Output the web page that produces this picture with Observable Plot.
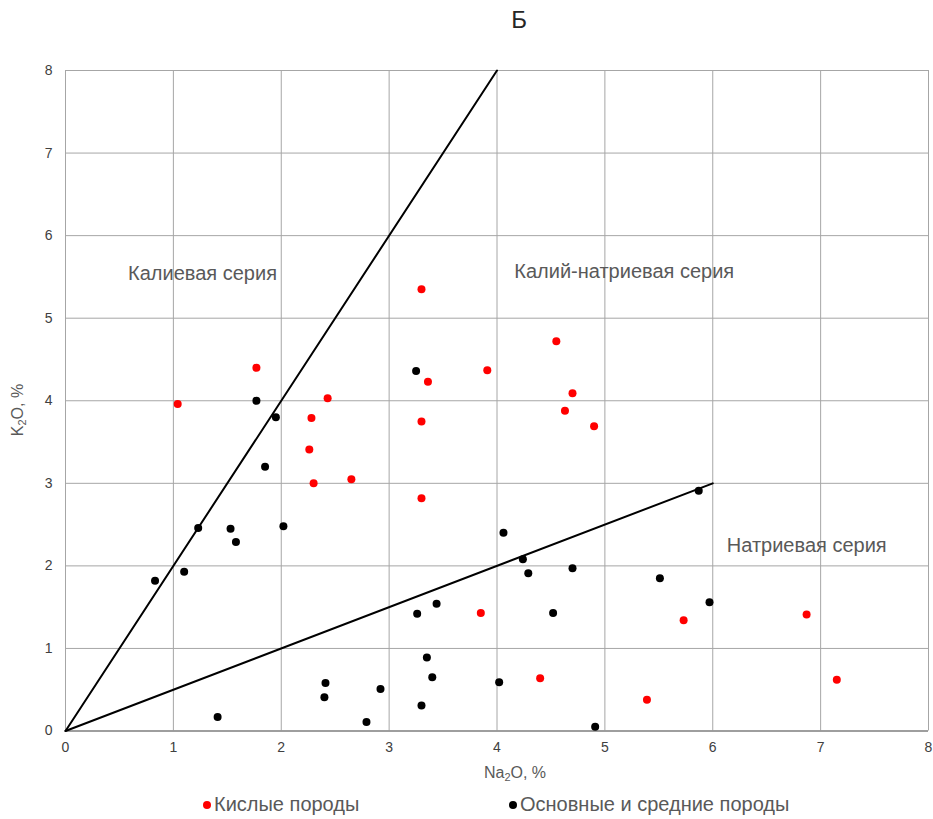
<!DOCTYPE html>
<html>
<head>
<meta charset="utf-8">
<script src="https://cdn.jsdelivr.net/npm/d3@7"></script>
<script src="https://cdn.jsdelivr.net/npm/@observablehq/plot@0.6"></script>
<style>
  html, body { margin: 0; padding: 0; background: #fff; }
  body { width: 933px; height: 819px; position: relative; overflow: hidden;
         font-family: "Liberation Sans", Arial, sans-serif; }
  #title { position: absolute; top: 6px; left: 519px; transform: translateX(-50%);
           font-size: 24px; color: #262626; }
  #chart { position: absolute; top: 0; left: 0; }
  .axlabel { position: absolute; font-size: 16px; color: #595959; white-space: nowrap; line-height: 1; }
  .axlabel sub { font-size: 11px; vertical-align: -3px; line-height: 0; }
  #xlabel { left: 515px; top: 773px; transform: translate(-50%, -50%); }
  #ylabel { left: 18px; top: 410px; transform: translate(-50%, -50%) rotate(-90deg); }
  .leg { position: absolute; top: 793px; font-size: 20px; color: #595959; white-space: nowrap; }
  .leg .dot { display: inline-block; width: 8px; height: 8px; border-radius: 50%;
              margin-right: 3px; vertical-align: middle; position: relative; top: -1px; }
</style>
</head>
<body>
<div id="title"></div>
<div id="chart"></div>
<div id="xlabel" class="axlabel"></div>
<div id="ylabel" class="axlabel"></div>
<script>
// ---- data ----
const title = "Б";
const xLabelParts = ["Na", "2", "O, %"];
const yLabelParts = ["K", "2", "O, %"];
const ticks = [0, 1, 2, 3, 4, 5, 6, 7, 8];

const seriesNames = ["Кислые породы", "Основные и средние породы"];
const seriesColors = ["#ff0000", "#000000"];

// Кислые породы (Na2O, K2O)
const acidNa = [1.04, 1.77, 2.43, 2.28, 2.26, 2.30, 2.65, 3.30, 3.36, 3.30, 3.30, 3.91, 4.55, 4.70, 4.63, 4.90, 3.85, 4.40, 5.39, 5.73, 6.87, 7.15];
const acidK  = [3.96, 4.40, 4.03, 3.79, 3.41, 3.00, 3.05, 5.35, 4.23, 3.75, 2.82, 4.37, 4.72, 4.09, 3.88, 3.69, 1.43, 0.64, 0.38, 1.34, 1.41, 0.62];

// Основные и средние породы (Na2O, K2O)
const basicNa = [0.83, 1.10, 1.23, 1.53, 1.58, 2.02, 1.85, 1.95, 1.77, 3.25, 1.41, 2.41, 2.40, 2.92, 2.79, 3.26, 3.44, 3.35, 3.40, 3.30, 4.02, 4.06, 4.24, 4.29, 4.70, 4.52, 5.51, 5.97, 5.87, 4.91];
const basicK  = [1.82, 1.93, 2.46, 2.45, 2.29, 2.48, 3.20, 3.80, 4.00, 4.36, 0.17, 0.58, 0.41, 0.51, 0.11, 1.42, 1.54, 0.89, 0.65, 0.31, 0.59, 2.40, 2.08, 1.91, 1.97, 1.43, 1.85, 1.56, 2.91, 0.05];

// boundary lines
const potassicBoundaryX = [0, 4];
const potassicBoundaryY = [0, 8];
const sodicBoundaryX = [0, 6];
const sodicBoundaryY = [0, 3];

// series field labels
const fieldLabels = ["Калиевая серия", "Калий-натриевая серия", "Натриевая серия"];
const fieldX = [0.58, 4.16, 6.13];
const fieldY = [5.54, 5.56, 2.25];

// ---- build ----
document.getElementById("title").textContent = title;
function setLabel(id, parts) {
  const el = document.getElementById(id);
  el.appendChild(document.createTextNode(parts[0]));
  const s = document.createElement("sub");
  s.textContent = parts[1];
  el.appendChild(s);
  el.appendChild(document.createTextNode(parts[2]));
}
setLabel("xlabel", xLabelParts);
setLabel("ylabel", yLabelParts);

const acid = acidNa.map((x, i) => ({x, y: acidK[i]}));
const basic = basicNa.map((x, i) => ({x, y: basicK[i]}));
const potLine = potassicBoundaryX.map((x, i) => ({x, y: potassicBoundaryY[i]}));
const sodLine = sodicBoundaryX.map((x, i) => ({x, y: sodicBoundaryY[i]}));
const fields = fieldLabels.map((t, i) => ({t, x: fieldX[i], y: fieldY[i]}));

const chart = Plot.plot({
  width: 933,
  height: 790,
  marginLeft: 65,
  marginRight: 5,
  marginTop: 70,
  marginBottom: 59.5,
  style: {fontFamily: "Liberation Sans, Arial, sans-serif", background: "transparent"},
  x: {domain: [0, 8], ticks: ticks, label: null},
  y: {domain: [0, 8], ticks: ticks, label: null},
  marks: [
    Plot.gridX(ticks, {stroke: "#a6a6a6", strokeOpacity: 1}),
    Plot.gridY(ticks, {stroke: "#a6a6a6", strokeOpacity: 1}),
    Plot.ruleY([0], {stroke: "#8c8c8c", strokeWidth: 1.5}),
    Plot.axisX(ticks, {tickSize: 0, tickPadding: 11, fontSize: 14, fill: "#404040", tickFormat: d3.format("d"), label: null}),
    Plot.axisY(ticks, {tickSize: 0, tickPadding: 13, fontSize: 14, fill: "#404040", tickFormat: d3.format("d"), label: null}),
    Plot.line(potLine, {x: "x", y: "y", stroke: "#000", strokeWidth: 2}),
    Plot.line(sodLine, {x: "x", y: "y", stroke: "#000", strokeWidth: 2}),
    Plot.dot(acid, {x: "x", y: "y", r: 4, fill: seriesColors[0], stroke: null}),
    Plot.dot(basic, {x: "x", y: "y", r: 4, fill: seriesColors[1], stroke: null}),
    Plot.text(fields, {x: "x", y: "y", text: "t", textAnchor: "start", fontSize: 20, fill: "#595959"})
  ]
});
document.getElementById("chart").appendChild(chart);

// legend
const legendLeft = [203, 509];
seriesNames.forEach((name, i) => {
  const item = document.createElement("div");
  item.className = "leg";
  item.style.left = legendLeft[i] + "px";
  const dot = document.createElement("span");
  dot.className = "dot";
  dot.style.background = seriesColors[i];
  item.appendChild(dot);
  item.appendChild(document.createTextNode(name));
  document.body.appendChild(item);
});
</script>
</body>
</html>
